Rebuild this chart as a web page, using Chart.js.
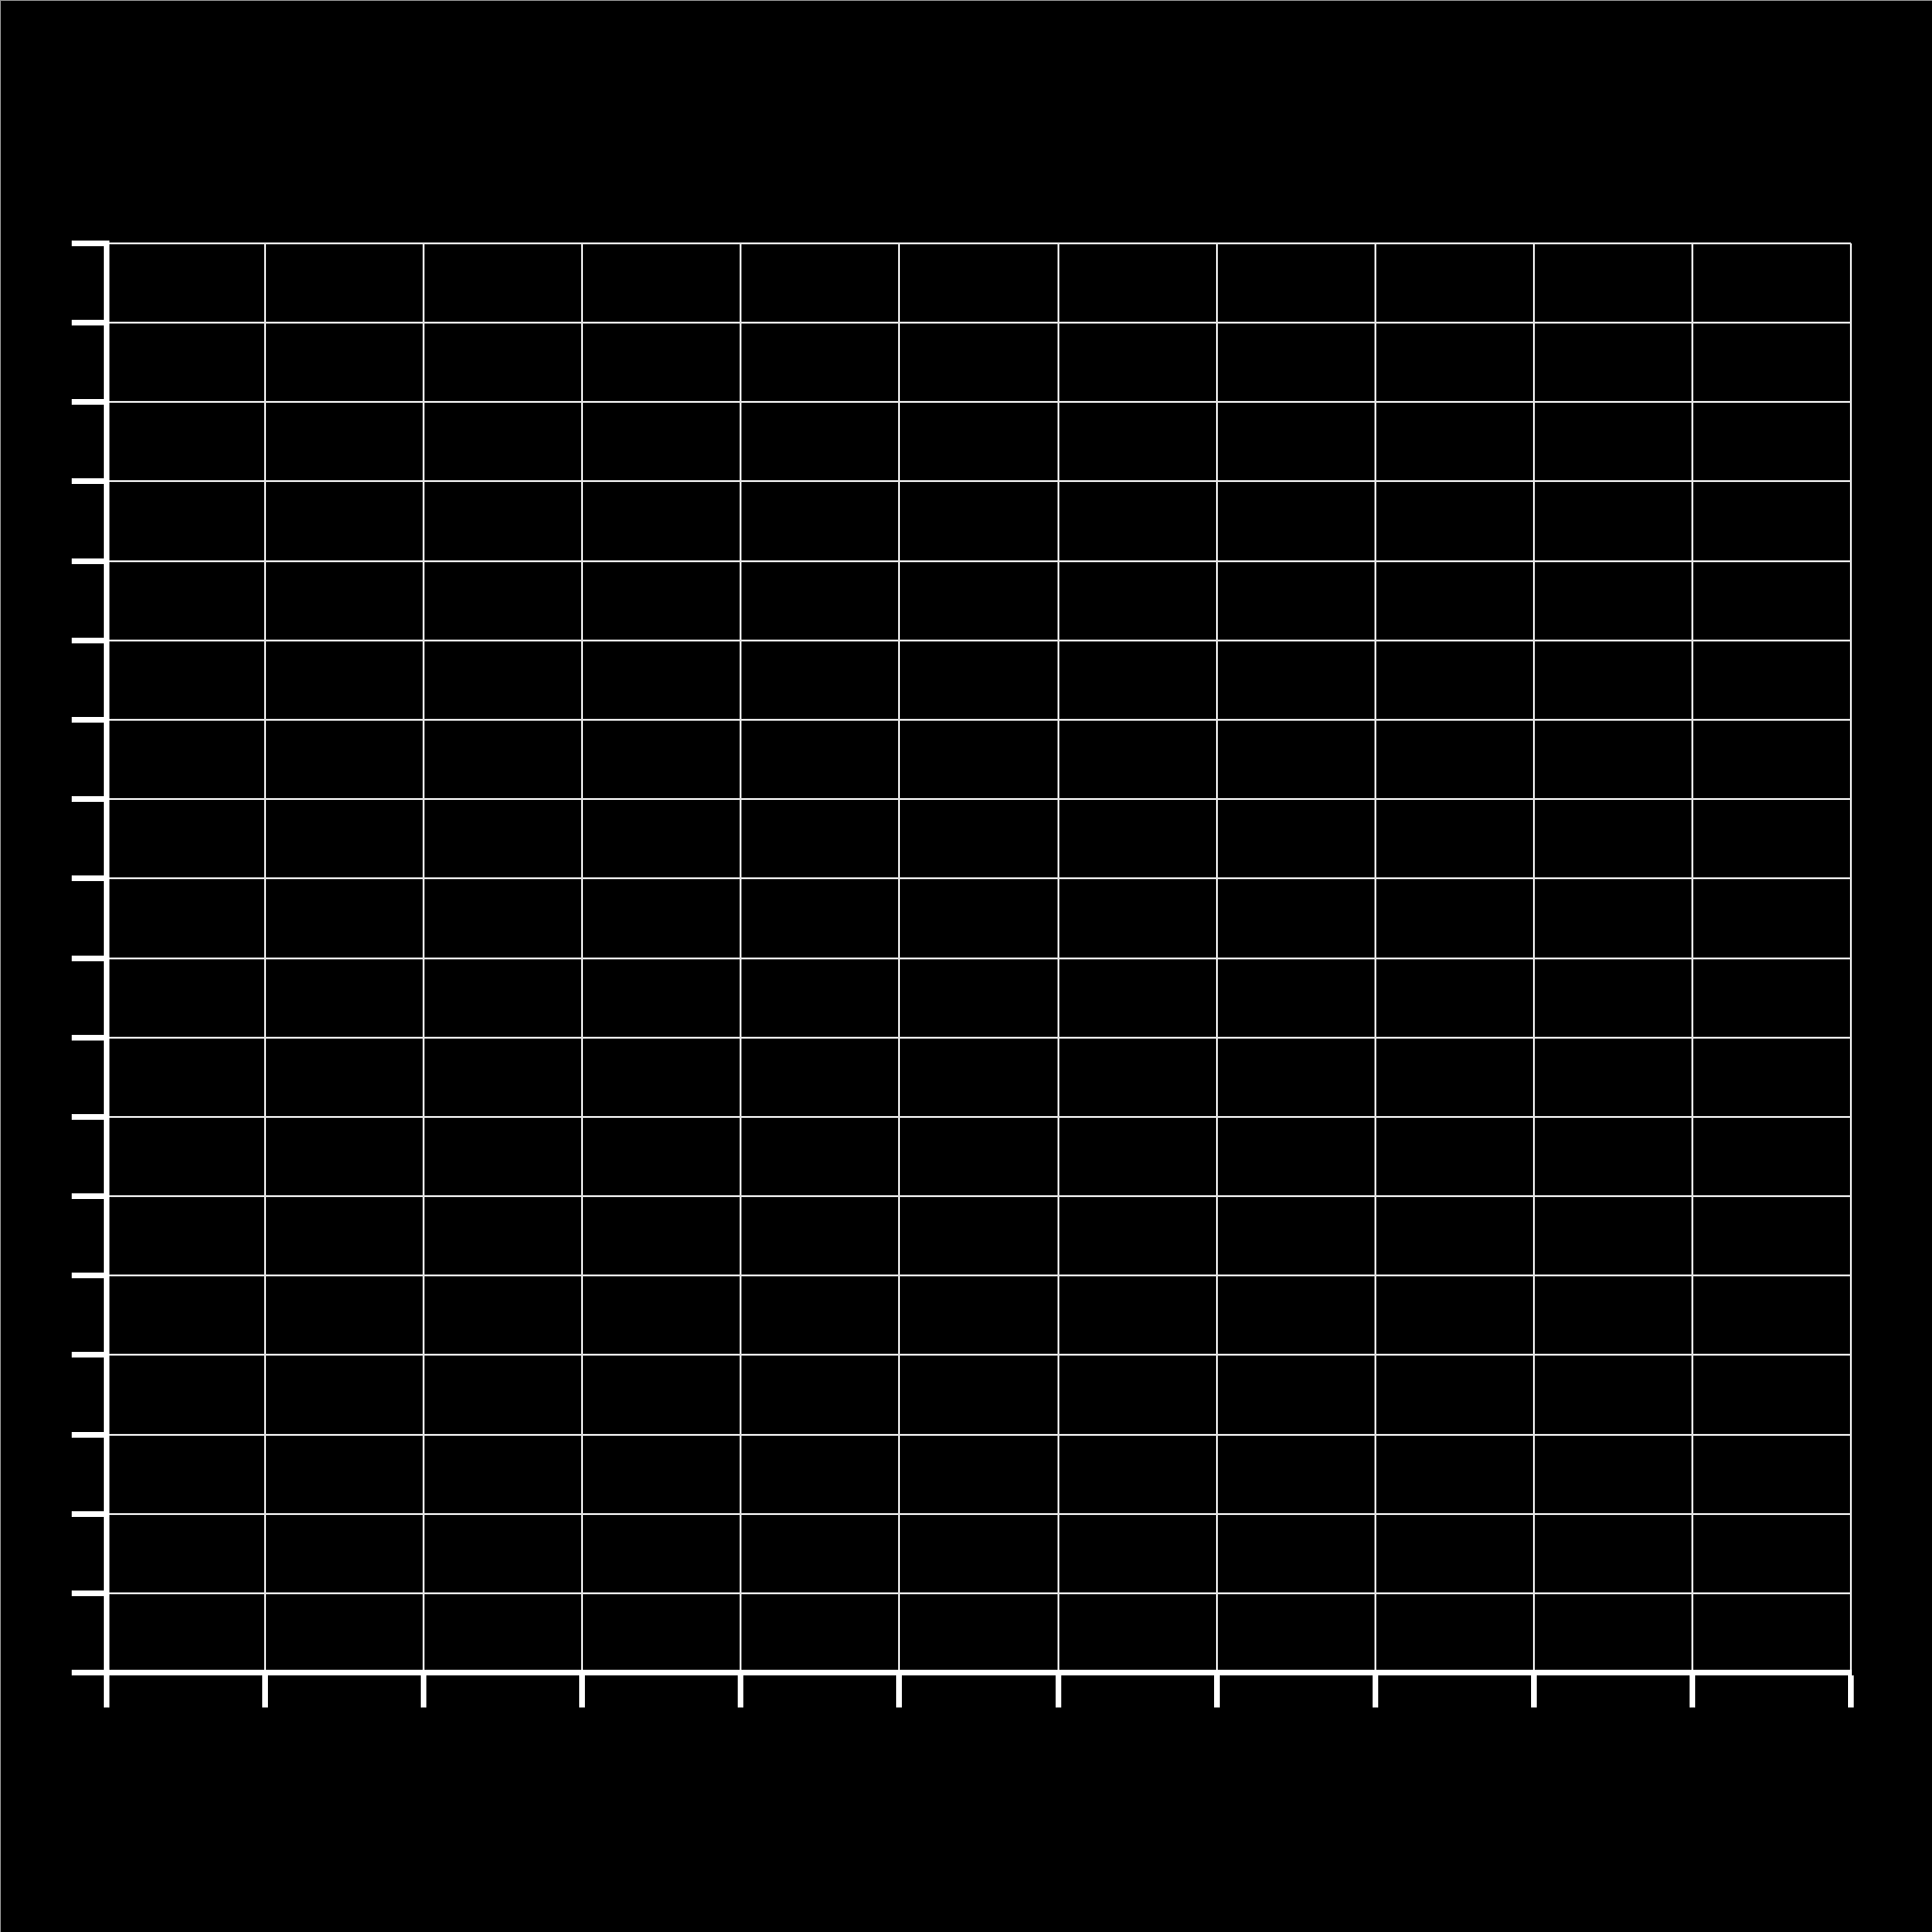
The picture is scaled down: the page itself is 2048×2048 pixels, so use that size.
<!DOCTYPE html>
<html>
<head>
<meta charset="utf-8">
<style>
  html, body { margin: 0; padding: 0; background: #000; }
  #wrap { position: relative; width: 2048px; height: 2048px; }
  #edge { position: absolute; left: 0; top: 0; width: 2048px; height: 2048px;
          border-left: 1px solid #8a8a8a; border-top: 1px solid #8a8a8a;
          box-sizing: border-box; pointer-events: none; }
</style>
<script src="https://cdn.jsdelivr.net/npm/chart.js@4"></script>
</head>
<body>
<div id="wrap">
  <canvas id="chart" width="2048" height="2048"></canvas>
  <div id="edge"></div>
</div>
<script>
// tick positions
const xTicks = [0, 1, 2, 3, 4, 5, 6, 7, 8, 9, 10, 11];
const yTicks = [0, 1, 2, 3, 4, 5, 6, 7, 8, 9, 10, 11, 12, 13, 14, 15, 16, 17, 18];
// no series is drawn in the picture
const points = [];

const gridStyle = {
  color: "#e4e4e4",
  lineWidth: 2,
  drawTicks: true,
  tickLength: 37,
  tickWidth: 6,
  tickColor: "#ffffff",
};

function fixTicks(values) {
  return (scale) => {
    scale.ticks = values.map((v) => ({ value: v }));
  };
}

const ctx = document.getElementById("chart").getContext("2d");
new Chart(ctx, {
  type: "scatter",
  data: {
    datasets: [{ data: points, borderColor: "#ffffff", backgroundColor: "#ffffff" }],
  },
  options: {
    responsive: false,
    animation: false,
    devicePixelRatio: 1,
    layout: { padding: { left: 76, top: 258, right: 86, bottom: 238 } },
    plugins: { legend: { display: false }, tooltip: { enabled: false } },
    scales: {
      x: {
        type: "linear",
        min: xTicks[0],
        max: xTicks[xTicks.length - 1],
        afterBuildTicks: fixTicks(xTicks),
        ticks: { display: false },
        grid: gridStyle,
        border: { display: true, color: "#ffffff", width: 6 },
      },
      y: {
        type: "linear",
        min: yTicks[0],
        max: yTicks[yTicks.length - 1],
        afterBuildTicks: fixTicks(yTicks),
        ticks: { display: false },
        grid: gridStyle,
        border: { display: true, color: "#ffffff", width: 6 },
      },
    },
  },
});
</script>
</body>
</html>
